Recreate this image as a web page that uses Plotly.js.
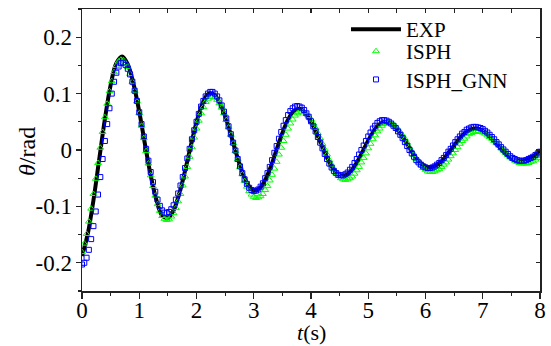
<!DOCTYPE html>
<html>
<head>
<meta charset="utf-8">
<script src="https://cdn.plot.ly/plotly-3.0.1.min.js"></script>
<style>html,body{margin:0;padding:0;background:#fff;}</style>
</head>
<body>
<div id="chart" style="width:551px;height:346px;"></div>
<script>
// ---- data ----
const seriesNames = ['EXP', 'ISPH', 'ISPH_GNN'];

// EXP: samples every 0.1 s from t = 0 to 8 s
const expStart = 0;
const expStep = 0.1;
const expTheta = [
 -0.188,-0.149,-0.089,-0.017,0.055,0.115,0.154,0.166,0.152,0.117,
 0.068,0.010,-0.045,-0.089,-0.116,-0.121,-0.107,-0.077,-0.037,0.007,
 0.049,0.081,0.099,0.099,0.085,0.060,0.027,-0.008,-0.039,-0.062,
 -0.072,-0.068,-0.053,-0.029,0.001,0.030,0.054,0.069,0.073,0.066,
 0.050,0.029,0.005,-0.018,-0.035,-0.045,-0.045,-0.037,-0.022,-0.003,
 0.017,0.034,0.046,0.050,0.047,0.037,0.023,0.007,-0.009,-0.022,
 -0.029,-0.031,-0.026,-0.018,-0.005,0.008,0.021,0.031,0.037,0.038,
 0.034,0.026,0.015,0.004,-0.007,-0.015,-0.019,-0.020,-0.016,-0.010,
 -0.002
];

// ISPH and ISPH_GNN: samples every 0.04 s from t = 0 to 8 s
const simStart = 0;
const simStep = 0.04;
const isphTheta = [
 -0.181,-0.166,-0.149,-0.127,-0.104,-0.078,-0.051,-0.023,0.004,0.032,0.058,0.082,0.104,0.122,0.138,0.149,0.157,0.160,
 0.159,0.154,0.147,0.135,0.121,0.105,0.086,0.065,0.043,0.021,-0.002,-0.024,-0.045,-0.064,-0.081,-0.096,-0.108,-0.117,-0.122,-0.124,
 -0.123,-0.118,-0.112,-0.103,-0.091,-0.078,-0.063,-0.047,-0.030,-0.012,0.005,0.022,0.038,0.052,0.065,0.076,0.085,0.091,0.094,
 0.095,0.093,0.089,0.083,0.075,0.065,0.053,0.040,0.027,0.012,-0.002,-0.017,-0.030,-0.043,-0.055,-0.065,-0.073,-0.079,-0.083,-0.085,
 -0.084,-0.082,-0.078,-0.071,-0.064,-0.054,-0.044,-0.033,-0.021,-0.008,0.004,0.016,0.027,0.038,0.047,0.054,0.061,0.065,0.067,
 0.068,0.067,0.064,0.060,0.054,0.047,0.039,0.030,0.021,0.011,0.001,-0.008,-0.018,-0.026,-0.034,-0.041,-0.046,-0.050,-0.052,-0.053,
 -0.052,-0.050,-0.047,-0.042,-0.036,-0.030,-0.022,-0.014,-0.006,0.003,0.011,0.019,0.026,0.033,0.038,0.043,0.046,0.048,
 0.048,0.047,0.045,0.042,0.037,0.032,0.026,0.020,0.013,0.005,-0.002,-0.009,-0.016,-0.022,-0.027,-0.032,-0.035,-0.038,-0.039,
 -0.039,-0.038,-0.036,-0.034,-0.030,-0.026,-0.022,-0.017,-0.011,-0.006,0.000,0.005,0.011,0.016,0.020,0.024,0.028,0.030,0.032,0.033,
 0.033,0.032,0.031,0.029,0.026,0.023,0.020,0.016,0.012,0.008,0.003,-0.001,-0.005,-0.009,-0.013,-0.016,-0.019,-0.021,-0.023,-0.024,-0.024,
 -0.024,-0.023,-0.021,-0.020,-0.017,-0.014,-0.011
];
const gnnTheta = [
 -0.203,-0.200,-0.191,-0.177,-0.158,-0.135,-0.109,-0.079,-0.048,-0.016,0.016,0.046,0.074,0.100,0.121,0.137,0.148,0.154,
 0.155,0.151,0.144,0.134,0.121,0.105,0.087,0.067,0.046,0.024,0.002,-0.019,-0.039,-0.057,-0.074,-0.088,-0.099,-0.107,-0.111,
 -0.112,-0.110,-0.105,-0.098,-0.088,-0.077,-0.063,-0.048,-0.032,-0.015,0.002,0.019,0.035,0.050,0.064,0.077,0.087,0.095,0.100,0.103,
 0.103,0.100,0.095,0.088,0.079,0.068,0.056,0.042,0.028,0.013,-0.001,-0.016,-0.029,-0.041,-0.052,-0.060,-0.067,-0.071,-0.073,
 -0.072,-0.070,-0.065,-0.059,-0.050,-0.041,-0.030,-0.018,-0.005,0.007,0.020,0.032,0.043,0.053,0.062,0.069,0.074,0.077,0.078,
 0.077,0.075,0.071,0.065,0.059,0.051,0.042,0.033,0.023,0.013,0.003,-0.007,-0.016,-0.024,-0.031,-0.037,-0.041,-0.044,-0.045,
 -0.045,-0.043,-0.040,-0.035,-0.030,-0.023,-0.016,-0.008,0.000,0.008,0.016,0.024,0.031,0.038,0.043,0.048,0.051,0.053,
 0.053,0.052,0.050,0.047,0.043,0.039,0.033,0.027,0.021,0.014,0.007,0.000,-0.006,-0.012,-0.018,-0.022,-0.026,-0.029,-0.031,-0.032,
 -0.032,-0.031,-0.029,-0.026,-0.023,-0.018,-0.014,-0.009,-0.003,0.002,0.008,0.014,0.019,0.024,0.029,0.032,0.036,0.038,0.040,0.041,
 0.041,0.040,0.039,0.037,0.034,0.031,0.027,0.023,0.019,0.014,0.010,0.005,0.001,-0.003,-0.007,-0.011,-0.014,-0.016,-0.018,-0.019,
 -0.019,-0.019,-0.018,-0.016,-0.014,-0.012,-0.009,-0.006,-0.003
];

// tick labels and axis titles
const xTickVals = [0,1,2,3,4,5,6,7,8];
const xTickText = ['0','1','2','3','4','5','6','7','8'];
const yTickVals = [-0.2,-0.1,0,0.1,0.2];
const yTickText = ['-0.2','-0.1','0','0.1','0.2'];
const xTitle = '<i>t</i>(s)';
const yTitle = '<i>θ</i>/rad';

// ---- chart ----
const serif = 'Liberation Serif';

const traces = [
  {
    type: 'scatter', mode: 'lines', name: seriesNames[0], legend: 'legend',
    x0: expStart, dx: expStep, y: expTheta,
    line: {color: '#000000', width: 4, shape: 'spline', smoothing: 1}
  },
  {
    type: 'scatter', mode: 'markers', name: seriesNames[1], legend: 'legend2',
    x0: simStart, dx: simStep, y: isphTheta,
    marker: {symbol: 'triangle-up-open', size: 6, color: '#00ff00', line: {width: 1, color: '#00ff00'}}
  },
  {
    type: 'scatter', mode: 'markers', name: seriesNames[2], legend: 'legend3',
    x0: simStart, dx: simStep, y: gnnTheta,
    marker: {symbol: 'square-open', size: 5, color: '#0000ff', line: {width: 1, color: '#0000ff'}}
  },
  {
    type: 'scatter', mode: 'markers', x: [], y: [], xaxis: 'x2', yaxis: 'y2',
    showlegend: false, hoverinfo: 'skip'
  }
];

const axisLine = {showline: true, linecolor: '#222', linewidth: 1.5, showgrid: false, zeroline: false};
const legendBase = {
  xanchor: 'left', yanchor: 'middle',
  bgcolor: 'rgba(0,0,0,0)', borderwidth: 0,
  font: {family: serif, size: 21, color: '#000'},
  itemwidth: 50, tracegroupgap: 0
};

const layout = {
  width: 551, height: 346,
  margin: {l: 82, r: 11, t: 9, b: 55, pad: 0},
  paper_bgcolor: '#ffffff', plot_bgcolor: '#ffffff',
  font: {family: serif, size: 23, color: '#000'},
  showlegend: true,
  legend: Object.assign({}, legendBase, {x: 0.5764, y: 1.0, yanchor: 'top'}),
  legend2: Object.assign({}, legendBase, {x: 0.5764, y: 0.849}),
  legend3: Object.assign({}, legendBase, {x: 0.5764, y: 0.749}),
  xaxis: Object.assign({}, axisLine, {
    range: [0, 8], tickmode: 'array', tickvals: xTickVals, ticktext: xTickText,
    ticks: 'outside', ticklen: 6, tickwidth: 1.2, tickcolor: '#222',
    minor: {tickmode: 'linear', tick0: 0, dtick: 0.5, ticks: 'outside', ticklen: 3.5, tickwidth: 1.2, tickcolor: '#222', showgrid: false},
    tickfont: {family: serif, size: 23, color: '#000'},
    ticklabelstandoff: -8,
    automargin: false
  }),
  yaxis: Object.assign({}, axisLine, {
    range: [-0.25, 0.25], tickmode: 'array', tickvals: yTickVals, ticktext: yTickText,
    ticks: 'outside', ticklen: 5, tickwidth: 1.2, tickcolor: '#222',
    minor: {tickmode: 'linear', tick0: 0, dtick: 0.05, ticks: 'outside', ticklen: 3, tickwidth: 1.2, tickcolor: '#222', showgrid: false},
    tickfont: {family: serif, size: 23, color: '#000'},
    ticklabelstandoff: -1,
    automargin: false
  }),
  xaxis2: Object.assign({}, axisLine, {
    overlaying: 'x', side: 'top', anchor: 'y2', range: [0, 8],
    tickmode: 'linear', tick0: 0, dtick: 0.5, ticks: 'inside', ticklen: 4, tickwidth: 1.2, tickcolor: '#222',
    showticklabels: false
  }),
  yaxis2: Object.assign({}, axisLine, {
    overlaying: 'y', side: 'right', anchor: 'x2', range: [-0.25, 0.25],
    tickmode: 'linear', tick0: 0, dtick: 0.05, ticks: 'inside', ticklen: 4, tickwidth: 1.2, tickcolor: '#222',
    showticklabels: false
  }),
  annotations: [
    {
      text: yTitle, xref: 'paper', yref: 'paper', x: -0.1201, y: 0.4965,
      xanchor: 'center', yanchor: 'middle', textangle: -90, showarrow: false,
      font: {family: serif, size: 24, color: '#000'}
    },
    {
      text: xTitle, xref: 'paper', yref: 'paper', x: 0.5, y: -0.1454,
      xanchor: 'center', yanchor: 'middle', showarrow: false, borderpad: 0,
      font: {family: serif, size: 22, color: '#000'}
    }
  ]
};

Plotly.newPlot('chart', traces, layout, {staticPlot: true, displayModeBar: false});
</script>
</body>
</html>
